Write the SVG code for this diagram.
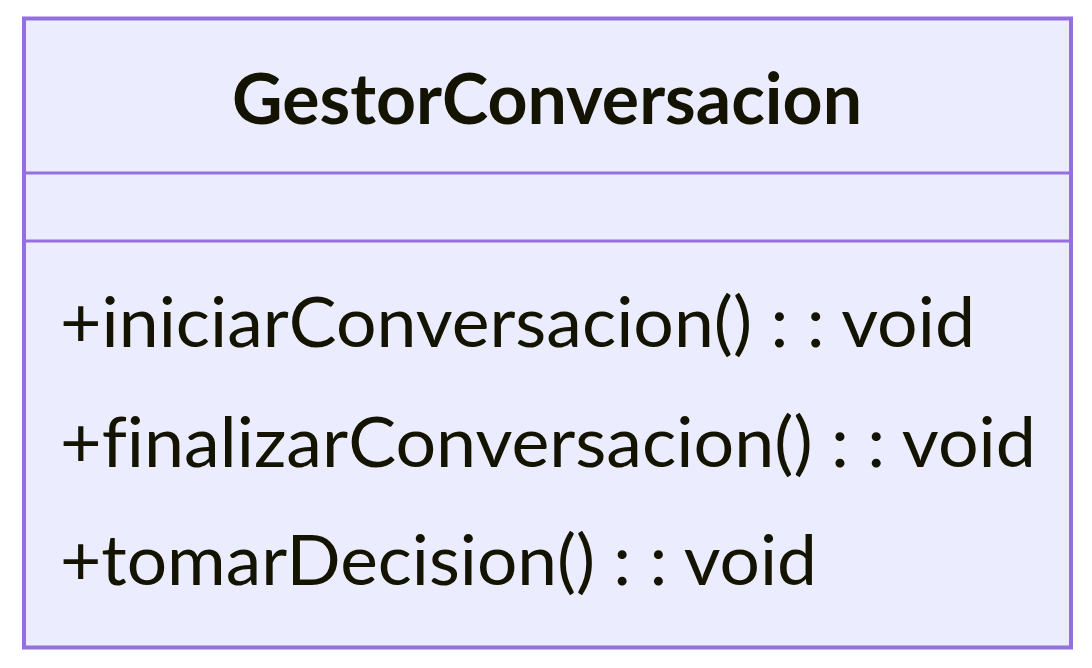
<svg xmlns="http://www.w3.org/2000/svg" width="1092" height="668" viewBox="0 0 1092 668">
<style>
.box{fill:#ECECFF;stroke:#9370DB;stroke-width:4}
.div{stroke:#9370DB;stroke-width:3}
.t{font-family:"Trebuchet MS",Lato,"Open Sans",sans-serif;font-size:70px;fill:#131300;font-variant-ligatures:none}
.title{font-weight:bold;text-anchor:middle}
</style>
<rect width="1092" height="668" fill="#ffffff"/>
<g id="GestorConversacion">
<rect class="box" x="24" y="18.5" width="1047" height="629"/>
<line class="div" x1="24" y1="173" x2="1071" y2="173"/>
<line class="div" x1="24" y1="241" x2="1071" y2="241"/>
<text class="t title" x="547" y="124" textLength="630" lengthAdjust="spacingAndGlyphs">GestorConversacion</text>
<text class="t" x="60" y="347" textLength="915" lengthAdjust="spacingAndGlyphs">+iniciarConversacion() : : void</text>
<text class="t" x="60" y="467" textLength="976" lengthAdjust="spacingAndGlyphs">+finalizarConversacion() : : void</text>
<text class="t" x="60" y="585" textLength="757" lengthAdjust="spacingAndGlyphs">+tomarDecision() : : void</text>
</g>
<g id="connectors"/>
</svg>
